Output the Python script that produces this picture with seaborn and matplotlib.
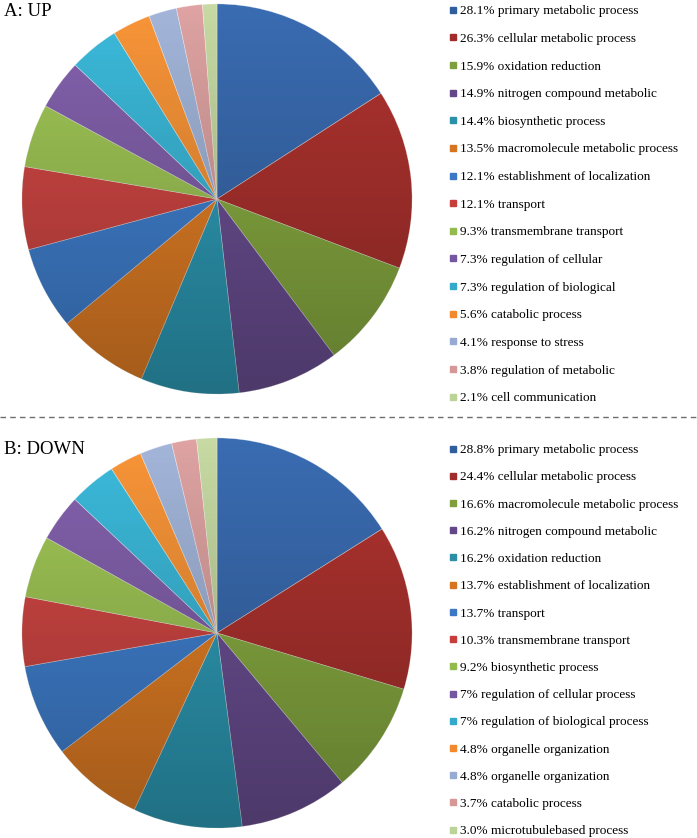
import numpy as np
import seaborn as sns
import matplotlib.pyplot as plt
from matplotlib.patches import Circle
from matplotlib.lines import Line2D

up_terms = [
    'primary metabolic process', 'cellular metabolic process', 'oxidation reduction',
    'nitrogen compound metabolic', 'biosynthetic process', 'macromolecule metabolic process',
    'establishment of localization', 'transport', 'transmembrane transport',
    'regulation of cellular', 'regulation of biological', 'catabolic process',
    'response to stress', 'regulation of metabolic', 'cell communication',
]
up_pct = ['28.1', '26.3', '15.9', '14.9', '14.4', '13.5', '12.1', '12.1',
          '9.3', '7.3', '7.3', '5.6', '4.1', '3.8', '2.1']

down_terms = [
    'primary metabolic process', 'cellular metabolic process', 'macromolecule metabolic process',
    'nitrogen compound metabolic', 'oxidation reduction', 'establishment of localization',
    'transport', 'transmembrane transport', 'biosynthetic process',
    'regulation of cellular process', 'regulation of biological process', 'organelle organization',
    'organelle organization', 'catabolic process', 'microtubulebased process',
]
down_pct = ['28.8', '24.4', '16.6', '16.2', '16.2', '13.7', '13.7', '10.3',
            '9.2', '7', '7', '4.8', '4.8', '3.7', '3.0']

# office-style palette (two shades per hue, then pale tints)
slice_colors = [
    '#3A6CB2', '#B0332F', '#8CB043', '#6E5197', '#2FA0BC', '#E98226',
    '#4284D6', '#D44845', '#A2C957', '#8462AE', '#3CBBDC', '#F99538',
    '#A3B6DA', '#DEA3A2', '#C7DAA3',
]
legend_colors = [
    '#2F5E9E', '#A02D2B', '#7E9F3B', '#634788', '#2B8FA8', '#D67420',
    '#3C78C6', '#C63D3A', '#93BA4C', '#7556A0', '#33AACB', '#F2892C',
    '#97ABD2', '#D59897', '#BCD397',
]

sns.set_theme(style='white')
plt.rcParams['font.family'] = ['Liberation Serif', 'DejaVu Serif']
plt.rcParams['text.color'] = 'black'

fig = plt.figure(figsize=(6.97, 8.38), dpi=100)
W, H = 697, 838


def px_axes(x0, y0, x1, y1):
    return fig.add_axes([x0 / W, 1 - y1 / H, (x1 - x0) / W, (y1 - y0) / H])


def draw_pie(ax, pct, terms, title, title_y, leg_top, spacing):
    vals = np.array([float(p) for p in pct])
    ax.pie(vals, colors=slice_colors, startangle=90, counterclock=False,
           radius=1, wedgeprops=dict(edgecolor=(1, 1, 1, 0.45), linewidth=0.5))
    ax.set_xlim(-1.02, 1.02)
    ax.set_ylim(-1.02, 1.02)
    ax.set_aspect('equal')
    ax.axis('off')

    # vertical shading: lighter on top, darker at the bottom
    grad = np.zeros((256, 2, 4))
    t = np.linspace(0, 1, 256)[:, None]
    grad[..., 3] = 0.3 * t
    img = ax.imshow(grad, extent=(-1, 1, -1, 1), origin='upper', zorder=5, aspect='auto')
    img.set_clip_path(Circle((0, 0), 1, transform=ax.transData))

    handles = [Line2D([], [], marker='s', linestyle='none', markersize=4.6,
                      markerfacecolor=c, markeredgecolor=c) for c in legend_colors]
    labels = [f'{p}% {t}' for p, t in zip(pct, terms)]
    fig.legend(handles, labels, loc='upper left', bbox_to_anchor=(449 / W, 1 - leg_top / H),
               frameon=False, fontsize=9.5, labelspacing=spacing, handlelength=0.6,
               handletextpad=0.25, borderpad=0, borderaxespad=0, labelcolor='black')

    fig.text(4 / W, 1 - title_y / H, title, fontsize=13.5, va='baseline', ha='left')


ax_up = px_axes(18, 0, 416, 398)
draw_pie(ax_up, up_pct, up_terms, 'A: UP', 16, 5, 1.168)

ax_down = px_axes(18, 434, 416, 832)
draw_pie(ax_down, down_pct, down_terms, 'B: DOWN', 454, 444, 1.135)

fig.add_artist(Line2D([0, 1], [1 - 417 / H, 1 - 417 / H], transform=fig.transFigure,
                      color='#6E6E6E', linewidth=1.0, linestyle=(0, (4, 3))))

fig.savefig('out.png', dpi=100)
